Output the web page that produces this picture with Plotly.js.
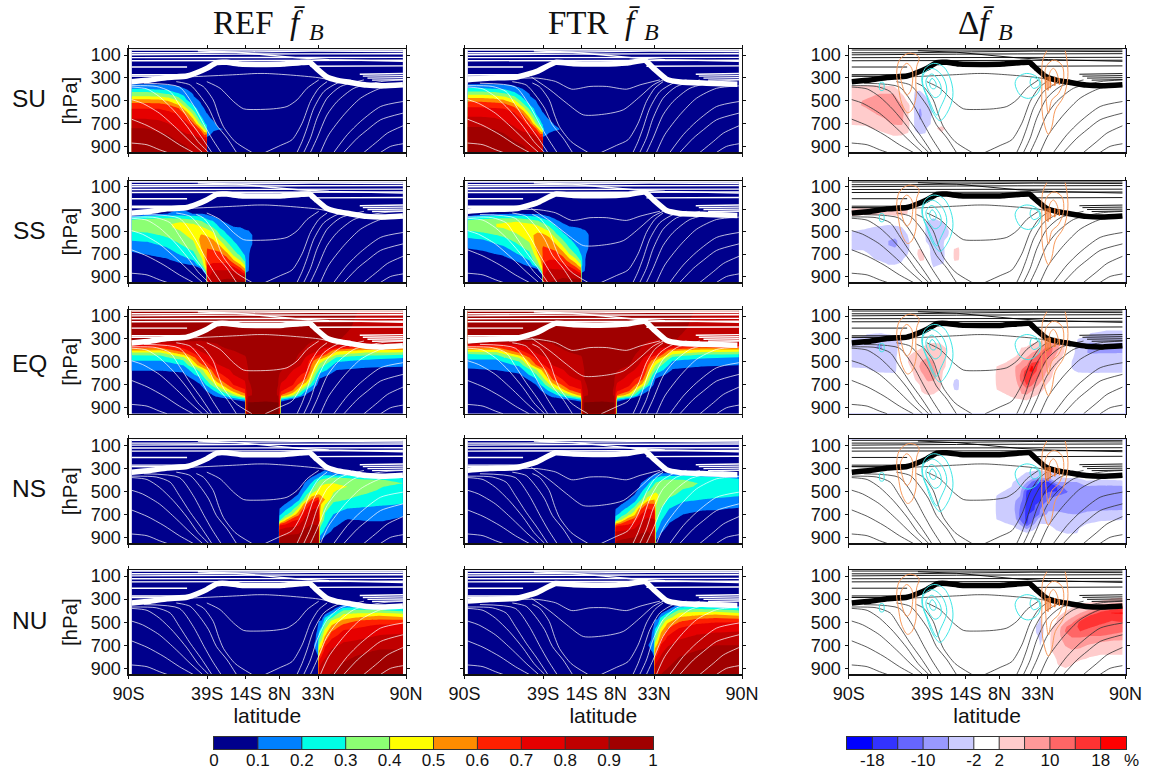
<!DOCTYPE html>
<html><head><meta charset="utf-8"><script src="https://cdn.plot.ly/plotly-3.0.1.min.js"></script>
<style>html,body{margin:0;padding:0;background:#fff}</style></head><body><div id="chart" style="width:1149px;height:770px"></div>
<script>
const seasons=['SU','SS','EQ','NS','NU'];
const columnTitles=['REF','FTR'];
const latTicks=[-90,-39,-14,8,33,90];
const latLabels=['90S','39S','14S','8N','33N','90N'];
const presTicks=[100,300,500,700,900];
const fLevelColors=['#00008c','#0080ff','#00ffe6','#8cff73','#ffff00','#ff8c00','#ff2000','#e60000','#c00000','#a00000','#7f0000'];
const dLevelColors=['#0000ff','#3333ff','#6666ff','#9999ff','#ccccff','#ffffff','#ffcccc','#ff9999','#ff6666','#ff3333','#ff0000'];
const fBarLabels=['0','0.1','0.2','0.3','0.4','0.5','0.6','0.7','0.8','0.9','1'];
const dBarPos=[1,3,5,6,8,10];
const dBarLabels=['-18','-10','-2','2','10','18'];

const PF=[52,340,360,380,400,430,460,490,530,570,610,650,700,750,800,850,900,952];
const PE=[52,200,250,300,320,340,360,380,400,430,460,490,530,570,610,650,700,750,790,830,860,952];
const PD=[47,270,300,340,380,420,460,500,540,580,620,660,700,740,780,820,860,952];

const su_lat=[-88,-79.3,-70.7,-64.2,-57.7,-52.3,-48,-43.6,-40.8,-39.3,-39,-35,-31.7,-28.5,-27,88];
const su_ref_z=[[0,0,.12,.16,.21,.32,.4,.51,.63,.7,.75,.79,.85,.91,.94,.96,.97,.98],[0,0,.12,.16,.21,.32,.4,.51,.63,.7,.75,.79,.85,.91,.94,.96,.97,.98],[0,0,.11,.15,.19,.3,.39,.5,.62,.7,.74,.78,.83,.88,.92,.95,.97,.98],[0,0,.1,.14,.18,.26,.36,.46,.59,.68,.72,.76,.8,.85,.9,.94,.96,.98],[0,0,.07,.12,.15,.19,.28,.37,.48,.62,.69,.72,.76,.8,.84,.89,.94,.97],[0,0,0,.05,.1,.13,.17,.2,.3,.42,.55,.65,.72,.76,.81,.86,.9,.94],[0,0,0,0,0,.09,.11,.14,.18,.26,.36,.47,.62,.74,.8,.83,.86,.88],[0,0,0,0,0,0,0,.08,.12,.15,.18,.24,.35,.6,.78,.82,.84,.85],[0,0,0,0,0,0,0,0,.05,.1,.13,.16,.22,.4,.6,.81,.83,.84],[0,0,0,0,0,0,0,0,0,.05,.1,.13,.17,.29,.65,.8,.82,.84],[0,0,0,0,0,0,0,0,0,.04,.1,.13,.17,.2,.15],[0,0,0,0,0,0,0,0,0,0,0,.07,.13,.13,.05],[0,0,0,0,0,0,0,0,0,0,0,0,.07,.11],[0,0,0,0,0,0,0,0,0,0,0,0,.02,.1],[0],[0]];
const su_ftr_z=[[0,0,.13,.18,.23,.34,.44,.55,.66,.72,.77,.81,.87,.92,.95,.96,.97,.98],[0,0,.13,.18,.23,.34,.44,.55,.66,.72,.77,.81,.87,.92,.95,.96,.97,.98],[0,0,.12,.17,.21,.32,.42,.53,.64,.71,.76,.8,.85,.9,.93,.95,.97,.98],[0,0,.11,.15,.2,.28,.39,.49,.62,.7,.74,.78,.82,.87,.91,.94,.96,.98],[0,0,.08,.13,.16,.21,.3,.4,.52,.65,.71,.74,.78,.82,.86,.9,.94,.97],[0,0,0,.06,.11,.14,.18,.22,.33,.46,.59,.68,.74,.78,.83,.87,.91,.95],[0,0,0,0,0,.09,.12,.15,.2,.29,.39,.51,.65,.76,.82,.85,.87,.89],[0,0,0,0,0,0,0,.09,.13,.16,.19,.26,.38,.63,.79,.83,.85,.86],[0,0,0,0,0,0,0,0,.06,.11,.14,.17,.24,.43,.63,.82,.84,.85],[0,0,0,0,0,0,0,0,0,.06,.11,.14,.18,.31,.67,.81,.83,.85],[0,0,0,0,0,0,0,0,0,.05,.11,.14,.18,.21,.15],[0,0,0,0,0,0,0,0,0,0,.02,.08,.14,.15,.07],[0,0,0,0,0,0,0,0,0,0,0,0,.09,.13,.02],[0,0,0,0,0,0,0,0,0,0,0,0,.04,.11],[0,0,0,0,0,0,0,0,0,0,0,0,0,.04],[0]];

const ss_lat=[-88,-78,-65,-56.5,-48,-42.5,-39.5,-39,-35,-30.7,-26.3,-22,-17.7,-14.5,-14,-12,-9.7,-7,88];
const ss_ref_z=[[0,0,.1,.25,.33,.38,.37,.31,.27,.21,.17,.13,.08],[0,.06,.21,.29,.33,.38,.37,.32,.27,.22,.18,.15,.11,.03],[0,.1,.22,.3,.35,.39,.38,.36,.32,.28,.23,.19,.14,.09,.03],[0,.12,.23,.29,.38,.42,.43,.4,.37,.33,.3,.26,.21,.14,.07],[0,.1,.21,.27,.32,.4,.43,.45,.44,.41,.37,.33,.26,.21,.1,.02],[0,.1,.18,.24,.29,.35,.41,.46,.51,.54,.53,.51,.45,.38,.3],[0,.08,.14,.19,.24,.3,.37,.44,.49,.53,.56,.58,.57,.55,.53,.4],[0,.08,.13,.18,.23,.29,.36,.43,.49,.53,.57,.6,.63,.66,.7,.74,.76,.78],[0,.04,.09,.13,.19,.24,.29,.37,.44,.5,.55,.59,.63,.67,.72,.81,.86,.88],[0,0,.04,.08,.11,.15,.19,.24,.3,.38,.47,.56,.63,.67,.72,.81,.87,.92],[0,0,0,.02,.06,.11,.14,.17,.21,.27,.34,.41,.54,.66,.73,.81,.88,.93],[0,0,0,0,0,.05,.11,.13,.16,.19,.23,.29,.37,.5,.67,.8,.88,.93],[0,0,0,0,0,0,.1,.12,.13,.15,.17,.2,.27,.39,.53,.72,.87,.92],[0,0,0,0,0,0,.08,.11,.12,.13,.14,.16,.18,.25,.4,.57,.83,.92],[0,0,0,0,0,0,.07,.11,.12,.13,.14,.15,.17,.2,.2,.15],[0,0,0,0,0,0,.05,.1,.11,.11,.11,.11,.11,.11,.11,.1],[0,0,0,0,0,0,0,.05,.1,.1,.1,.09,.05],[0],[0]];
const ss_ftr_z=[[0,0,.1,.24,.31,.37,.36,.3,.24,.18,.14,.1,.04],[0,.05,.2,.28,.33,.38,.38,.33,.26,.2,.16,.12,.07],[0,.09,.21,.3,.36,.41,.41,.37,.32,.27,.22,.17,.12,.05],[0,.1,.22,.3,.38,.44,.46,.43,.38,.33,.29,.25,.19,.12,.05],[0,.09,.2,.27,.33,.41,.46,.48,.47,.43,.38,.33,.27,.21,.12,.03],[0,.09,.18,.24,.3,.37,.43,.48,.53,.56,.57,.55,.5,.42,.32],[0,.07,.14,.2,.25,.32,.39,.46,.52,.56,.59,.6,.58,.56,.53,.4],[0,.07,.13,.19,.24,.31,.38,.45,.52,.56,.59,.61,.63,.67,.72,.76,.79,.8],[0,.04,.09,.14,.2,.26,.31,.39,.47,.53,.57,.6,.65,.7,.76,.83,.87,.9],[0,0,.04,.08,.12,.16,.21,.26,.33,.42,.5,.57,.64,.7,.75,.82,.87,.92],[0,0,0,.02,.06,.11,.14,.18,.23,.3,.37,.45,.56,.66,.73,.82,.89,.93],[0,0,0,0,0,.06,.11,.14,.17,.21,.25,.31,.4,.53,.67,.8,.88,.94],[0,0,0,0,0,.02,.1,.13,.15,.17,.19,.22,.29,.42,.55,.72,.87,.96],[0,0,0,0,0,0,.09,.12,.14,.15,.16,.18,.2,.27,.42,.6,.84,.97],[0,0,0,0,0,0,.08,.12,.13,.15,.16,.17,.19,.22,.22,.15],[0,0,0,0,0,0,.06,.11,.12,.13,.13,.13,.13,.12,.12,.1],[0,0,0,0,0,0,0,.07,.11,.11,.11,.1,.06],[0],[0]];

const eq_lat=[-88,-69.5,-54.4,-43.6,-32.8,-22,-14.5,-13.8,-12.3,-0.4,7.1,8.2,9,16.8,25.4,34,45,64.3,88];
const eq_ref_z=[[.95,.95,.94,.93,.92,.9,.72,.6,.5,.33,.26,.2,.14,.11,.05],[.96,.96,.95,.93,.91,.8,.69,.59,.49,.34,.26,.2,.14,.11,.06],[.96,.96,.95,.93,.91,.84,.78,.71,.66,.54,.39,.29,.2,.13,.08,.02],[.97,.97,.96,.93,.89,.87,.85,.84,.81,.77,.7,.65,.55,.33,.26,.17,.09,.03],[.98,.98,.97,.96,.93,.9,.89,.88,.87,.86,.84,.82,.79,.72,.65,.57,.42,.24,.13,.05],[.98,.98,.98,.97,.96,.95,.94,.92,.9,.88,.87,.86,.84,.82,.8,.75,.7,.55,.35,.1],[.98,.98,.98,.98,.97,.96,.95,.94,.93,.91,.89,.88,.87,.87,.85,.82,.76,.68,.55,.2],[.98,.98,.98,.98,.97,.96,.95,.94,.93,.92,.9,.89,.88,.88,.87,.85,.82,.78,.75,.75,.8,.85],[.98,.98,.98,.98,.98,.97,.97,.96,.95,.94,.93,.92,.91,.9,.9,.9,.89,.88,.88,.97,1.01,1.03],[.98,.98,.98,.98,.98,.98,.98,.98,.98,.98,.98,.98,.97,.97,.97,.97,.97,.98,.98,.99,1.01,1.05],[.98,.98,.98,.98,.98,.98,.98,.98,.98,.98,.98,.98,.97,.96,.92,.91,.9,.89,.89,.96,1.01,1.03],[.98,.98,.98,.98,.98,.98,.98,.98,.98,.98,.98,.97,.95,.92,.89,.85,.82,.78,.7,.7,.7,.75],[.98,.98,.98,.98,.98,.98,.97,.97,.97,.97,.97,.96,.94,.91,.88,.84,.78,.72,.6,.2],[.98,.98,.98,.98,.98,.97,.97,.96,.96,.95,.94,.93,.88,.8,.76,.74,.7,.59,.4,.05],[.97,.97,.96,.93,.92,.91,.9,.89,.87,.83,.79,.76,.74,.72,.66,.59,.42,.18,.08],[.96,.96,.94,.91,.88,.86,.85,.83,.8,.73,.6,.46,.36,.28,.17,.09,.03],[.95,.93,.92,.91,.9,.88,.81,.7,.53,.43,.3,.22,.15,.1,.05],[.88,.87,.86,.84,.83,.8,.72,.58,.48,.35,.25,.18,.12,.08,.03],[.86,.85,.84,.83,.82,.81,.78,.6,.47,.33,.21,.16,.11,.08,.03]];
const eq_ftr_z=[[.95,.95,.94,.93,.92,.9,.7,.58,.47,.3,.23,.18,.12,.09,.03],[.96,.96,.95,.93,.91,.8,.68,.57,.47,.32,.24,.18,.13,.1,.04],[.96,.96,.95,.93,.91,.85,.79,.73,.68,.57,.42,.32,.22,.14,.09,.02],[.97,.97,.96,.93,.9,.88,.86,.85,.83,.79,.73,.68,.59,.38,.29,.19,.1,.03],[.98,.98,.97,.96,.93,.9,.89,.88,.87,.87,.85,.83,.8,.74,.68,.61,.46,.27,.14,.05],[.98,.98,.98,.97,.96,.95,.94,.92,.91,.89,.88,.87,.85,.83,.81,.77,.72,.58,.37,.1],[.98,.98,.98,.98,.97,.96,.95,.94,.93,.91,.89,.88,.87,.87,.85,.82,.76,.68,.55,.2],[.98,.98,.98,.98,.97,.96,.95,.94,.93,.92,.9,.89,.88,.88,.87,.85,.82,.78,.75,.75,.8,.85],[.98,.98,.98,.98,.98,.97,.97,.96,.95,.94,.93,.92,.91,.9,.9,.9,.89,.88,.88,.97,1.01,1.03],[.98,.98,.98,.98,.98,.98,.98,.98,.98,.98,.98,.98,.97,.97,.97,.97,.97,.98,.98,.99,1.01,1.05],[.98,.98,.98,.98,.98,.98,.98,.98,.98,.98,.98,.98,.97,.96,.92,.91,.9,.89,.89,.96,1.01,1.03],[.98,.98,.98,.98,.98,.98,.98,.98,.98,.98,.98,.97,.95,.92,.89,.85,.82,.78,.7,.7,.7,.75],[.98,.98,.98,.98,.98,.98,.97,.97,.97,.97,.97,.96,.94,.91,.88,.84,.78,.72,.6,.2],[.98,.98,.98,.98,.98,.97,.97,.96,.96,.95,.94,.93,.9,.84,.79,.76,.72,.62,.43,.05],[.97,.97,.96,.93,.92,.91,.9,.89,.88,.85,.82,.79,.76,.74,.7,.62,.47,.2,.08],[.96,.96,.94,.91,.88,.86,.85,.83,.81,.76,.64,.5,.39,.3,.18,.09,.03],[.95,.93,.92,.91,.9,.88,.81,.69,.52,.41,.28,.2,.14,.09,.04],[.88,.87,.86,.84,.83,.8,.7,.56,.46,.32,.22,.16,.11,.07,.02],[.86,.85,.84,.83,.82,.81,.76,.58,.45,.31,.2,.15,.1,.06,.02]];

const ns_lat=[-88,7.5,8,11.5,15.8,20.2,24.5,28.8,33.2,34.2,37.5,42.9,52,64.5,75.3,88];
const ns_ref_z=[[0],[0],[0,0,0,0,0,0,0,0,0,0,0,.1,.18,.28,.73,.84,.91,.93],[0,0,0,0,0,0,0,0,0,.03,.1,.17,.25,.47,.77,.85,.92,.95],[0,0,0,0,0,0,0,0,.03,.1,.16,.24,.37,.67,.78,.87,.93,.96],[0,0,0,0,0,0,0,.06,.11,.17,.27,.41,.57,.71,.8,.88,.93,.96],[0,0,0,0,.06,.11,.15,.19,.26,.34,.56,.67,.77,.83,.88,.92,.94,.96],[0,0,.05,.11,.15,.21,.25,.3,.44,.6,.72,.79,.83,.88,.91,.93,.95,.96],[0,.09,.14,.19,.27,.34,.38,.43,.51,.7,.77,.81,.84,.87,.9,.92,.93,.94],[0,.1,.16,.22,.3,.36,.41,.46,.5,.52,.53,.52,.5,.49,.32,.27,.18,.05],[0,.11,.2,.27,.33,.39,.43,.46,.48,.5,.41,.34,.29,.25,.22,.17,.08],[0,.1,.19,.3,.36,.4,.43,.41,.39,.33,.28,.24,.2,.16,.12,.07],[0,.1,.2,.29,.33,.37,.4,.37,.33,.3,.25,.2,.15,.09,.05],[0,.09,.17,.25,.31,.33,.34,.33,.29,.25,.22,.19,.15,.11,.06],[0,.05,.15,.23,.3,.31,.3,.28,.26,.23,.21,.18,.15,.11,.06],[0,0,.1,.17,.25,.3,.28,.26,.24,.22,.2,.17,.12,.07,.03]];
const ns_ftr_z=[[0],[0],[0,0,0,0,0,0,0,0,0,0,0,.09,.17,.26,.68,.8,.87,.91],[0,0,0,0,0,0,0,0,0,.02,.09,.16,.23,.4,.72,.81,.88,.93],[0,0,0,0,0,0,0,0,.02,.09,.15,.22,.33,.58,.73,.82,.89,.94],[0,0,0,0,0,0,0,.04,.1,.15,.23,.34,.47,.66,.76,.84,.9,.95],[0,0,0,0,.04,.1,.13,.17,.22,.29,.42,.59,.7,.78,.84,.89,.92,.95],[0,0,.03,.09,.13,.18,.22,.27,.36,.44,.62,.7,.76,.83,.87,.9,.93,.95],[0,.07,.12,.17,.23,.29,.33,.37,.42,.5,.6,.67,.75,.81,.85,.88,.9,.92],[0,.08,.14,.19,.26,.31,.35,.39,.41,.42,.41,.39,.36,.33,.27,.22,.15,.05],[0,.09,.17,.24,.29,.33,.36,.38,.39,.37,.34,.29,.25,.21,.17,.12,.05],[0,.09,.17,.26,.31,.35,.37,.36,.33,.28,.24,.2,.16,.12,.08,.03],[0,.09,.18,.26,.3,.33,.32,.29,.26,.22,.18,.14,.1,.06,.02],[0,.08,.16,.23,.27,.29,.28,.26,.23,.2,.16,.11,.08,.05],[0,.05,.14,.21,.26,.27,.26,.24,.22,.19,.16,.11,.07,.04],[0,0,.1,.16,.23,.27,.26,.24,.21,.18,.14,.09,.05,.02]];

const nu_ref_lat=[-88,29.5,30.3,31.6,32.9,33.5,35.3,37.4,41.8,49.3,60.1,73.1,88];
const nu_ref_z=[[0],[0],[0,0,0,0,0,0,0,0,0,0,0,0,.1,.05],[0,0,0,0,0,0,0,0,0,.07,.1,.12,.15,.1],[0,0,0,0,0,0,0,.06,.1,.12,.14,.16,.18,.2,.08],[0,0,0,0,0,0,.06,.1,.14,.18,.22,.3,.4,.5,.6,.75,.8,.82],[0,0,0,0,0,0,.05,.11,.18,.25,.34,.39,.48,.59,.72,.8,.84,.87],[0,0,0,0,.03,.09,.2,.25,.32,.42,.48,.56,.68,.75,.79,.83,.86,.88],[0,0,0,.05,.1,.22,.29,.42,.51,.58,.65,.71,.77,.82,.84,.86,.88,.91],[0,.06,.13,.22,.31,.4,.46,.53,.63,.7,.74,.78,.82,.85,.88,.9,.92,.94],[0,.07,.16,.25,.33,.42,.51,.62,.68,.73,.77,.8,.84,.88,.91,.93,.95,.96],[0,.03,.11,.24,.33,.45,.55,.64,.72,.76,.8,.83,.87,.91,.93,.95,.96,.97],[0,0,.09,.21,.28,.42,.51,.65,.73,.77,.81,.84,.87,.91,.93,.95,.96,.97]];
const nu_ftr_lat=[-88,28.5,29.3,31.6,32.9,33.5,35.3,37.4,41.8,49.3,60.1,73.1,88];
const nu_ftr_z=[[0],[0],[0,0,0,0,0,0,0,0,0,0,0,0,.1,.05],[0,0,0,0,0,0,0,0,.04,.09,.11,.13,.16,.11],[0,0,0,0,0,0,.02,.08,.11,.13,.15,.17,.2,.22,.09],[0,0,0,0,0,0,.08,.11,.16,.21,.26,.34,.44,.54,.65,.77,.82,.84],[0,0,0,0,0,0,.07,.13,.21,.29,.37,.43,.53,.64,.75,.82,.86,.88],[0,0,0,0,.04,.11,.22,.28,.36,.46,.53,.61,.71,.77,.81,.85,.88,.9],[0,0,0,.06,.12,.25,.33,.46,.55,.63,.69,.74,.79,.84,.86,.88,.9,.92],[0,.07,.15,.24,.34,.44,.51,.58,.67,.73,.77,.8,.84,.87,.9,.92,.94,.95],[0,.08,.18,.28,.36,.46,.56,.66,.72,.76,.8,.83,.87,.9,.93,.95,.96,.97],[0,.04,.13,.26,.36,.49,.59,.68,.74,.78,.82,.86,.9,.93,.95,.96,.97,.98],[0,0,.1,.23,.31,.45,.56,.68,.75,.79,.83,.87,.9,.93,.95,.96,.97,.98]];

const d_su_lat=[-88,-79,-69.6,-60.9,-55.5,-51.2,-48.8,-46.8,-43.6,-40.3,-37,-34.5,-32.3,-29.5,-25.2,-23,88];
const d_su_z=[[0,0,0,0,2.5,3,4,4.5,5,5,5,4,2.5,1],[0,0,0,.5,3,4,5,6.5,6.5,5.5,4.5,3.5,2.5,1.5],[0,0,0,.5,3,5,7,8,8,7.5,6.5,5,4,3,1.5],[0,0,0,0,2.5,5,7,8.5,8.5,8.5,8,7.5,6.5,4.5,3,1.5],[0,0,0,0,0,1,3,4.5,6.5,7.5,7.5,7,6.5,5,3.5,1],[0,0,0,0,0,0,0,1,3,3,2,2.3,3,2.5,2],[0],[0,0,0,0,0,-2.3,-3,-3.5,-3.5,-3.5,-3,-3,-3,-2.5,-1.5],[0,0,0,0,0,-2.5,-3.5,-4,-5,-6.5,-7,-6.5,-4,-3,-2.5,-1],[0,0,0,0,0,0,-2.2,-3.5,-4,-4,-4,-3.5,-3,-2.5,-2.2,-.5],[0,0,0,0,0,0,0,-1.5,-2.5,-3,-3,-2.5,-2.3,-1],[0,0,0,0,0,0,0,0,0,-1,-1],[0,0,0,0,0,0,0,0,0,0,0,0,0,2.2,1],[0,0,0,0,0,0,0,0,0,0,0,0,.5,3,2],[0,0,0,0,0,0,0,0,0,0,0,0,0,1],[0],[0]];
const d_ss_lat=[-88,-80.5,-72.9,-64.2,-59.9,-55.5,-51.8,-49.7,-46.8,-43.6,-41,-39.7,-35,-28.4,-25,-23.3,-21.3,-18.5,-16.5,88];
const d_ss_z=[[0,0,3,3,1,0,0,-2.2,-3.5,-4,-4,-2.5],[0,0,3,2.5,.5,0,-1,-3,-4,-4.5,-4,-2.2,-1],[0,0,3,2.5,.5,0,-2.2,-3.5,-4,-4.5,-4.5,-4,-3,-2.2,-1],[0,0,3,2.5,.5,-1.5,-2.5,-3.5,-4.5,-6,-6,-4.5,-4,-3,-2.3,-1.5],[0,0,3,2.8,1,-1,-2.5,-3.5,-5,-7,-7,-5,-4,-3.5,-2.6,-1],[0,0,2.5,2.5,1,-.5,-2.1,-3,-3.5,-4,-4,-3.5,-3,-2.5,-1.8],[0,0,2.2,2,.5,0,0,-1.5,-2.3,-2.6,-2.8,-2.6,-2.2,-1],[0,0,1,2.1,.2,0,0,0,-.5,-1.5,-1.5,-1.5,-.5],[0,0,0,0,0,0,0,0,0,0,0,1.5,1.5,.5],[0,0,0,0,0,0,0,0,0,0,0,2.4,2.6,2.6,1.5],[0,0,0,0,0,0,0,0,0,0,0,1,2.1,2.3,1.5],[0,0,0,0,0,-2.3,-3,-3,-2.8,-2.2,-1],[0,0,0,0,-2.1,-3,-3.5,-4,-4,-4,-3.5,-3.5,-3.5,-3,-2.5,-2,-.5],[0,0,0,0,0,-2.1,-3,-3.5,-3,-2.3,-2.1,-2.5,-2.6,-2.5,-2.1,-.5],[0,0,0,0,0,0,-1.5,-2.2,-1.8,-.5],[0],[0,0,0,0,0,0,0,0,0,0,0,2.4,2.6,2.5,1.5],[0,0,0,0,0,0,0,0,0,0,1.6,2.5,2.6,2.4,1.3],[0],[0]];
const d_eq_lat=[-88,-78.3,-69.6,-59.9,-55.5,-51.2,-46.8,-42.5,-38.2,-34.9,-30.6,-26.7,-24,-22.1,-19.7,-17.3,-15.4,3.7,6.3,12.8,18.2,22.6,25.8,29.1,33.4,37.8,42.1,46.4,50.1,53.6,55.1,59.4,67,77.9,88];
const d_eq_z=[[0,0,-2.3,-3,-6.1,-3.5,-3,-3,-2.3,-1],[0,-2.1,-2.5,-4,-5,-3.5,-3,-3,-2.3,-1.5],[0,-2.2,-3,-6.2,-6.5,-3.5,-3,-3,-2.8,-2.5,-1],[0,-2,-2.5,-3,-3,-3,-2.6,-2.6,-2.5,-2.4,-1.5],[0,0,-2.1,-2.1,-.5],[0,0,0,0,0,1,2.1,2.1,1.5,.5],[0,0,0,0,0,2.5,3,3.5,3.5,3,2.5,1.9,.5],[0,0,0,0,2.2,3,4,6.5,7.5,6.5,5,3.5,2.7,2.3,1.7],[0,0,0,2,3,4,6,8,10,9.5,8,6.8,4,3,2.3,1],[0,0,0,2.3,3,4,5,6,6.5,7.5,8.5,6.3,4,2.5,2.1,.5],[0,0,0,2.1,2.8,3,3,3,3,3,3,2.8,2.5,2.1,1],[0,0,0,0,2,2.1,2.1,2,1.9,1,.5],[0],[0,0,0,0,0,0,0,0,0,0,0,-1.8,-2,-1.8],[0,0,0,0,0,0,0,0,0,0,-1,-2.5,-2.8,-2.5],[0,0,0,0,0,0,0,0,0,0,0,-1.6,-1.5,-1.5],[0],[0],[0,0,0,0,0,0,0,0,2.1,2.5,2.8,2.7,2.5,2,.5],[0,0,0,0,0,0,.5,2,2.4,2.7,2.9,3,2.9,2.8,2.2,1],[0,0,0,0,0,.5,2.2,3,5.8,5.9,5.5,4.5,4,3.5,3,2],[0,0,0,0,2.3,3,4.5,6.5,9,10.5,12,12,9,7,6,2.5],[0,0,0,0,3,4,6,8,10.5,17,17.5,16,14.3,9,6.5,3,.5],[0,0,0,2,4,6,9,13,19,19,14.5,13,10.5,7,3.5,1.5],[0,0,0,3,5,8.5,13,14.5,13,12,11,8.5,6,3.5,2.2,.5],[0,0,2,6,10.5,14.5,12,10.5,9,7,5.5,3.5,2.5,1.5],[0,0,2.5,7,10.5,10,8,6,4,2.7,2.2,1.5],[0,0,2.1,6,6.5,5,3.5,2.5,1],[0,0,0,2.1,2.2,2,1],[0],[0,0,0,0,0,0,-1.5,-2.1,-2.3,-1.5],[0,0,-2.2,-3,-4,-4.5,-3.5,-3,-3,-2.5,-1],[0,-2.2,-3.5,-6.5,-6.5,-6.5,-3.5,-3,-3,-2.6,-1.2],[0,-2.5,-4,-5.5,-6.3,-6.2,-4.5,-3,-3,-2.6,-1],[0,-2.5,-4,-6.5,-6.5,-6.1,-4,-3,-3,-2.6,-1]];
const d_ns_lat=[-88,3.7,6.3,10.6,17.1,21.5,25.8,30.2,34.5,39.9,45.3,51.9,58.4,64.9,73.5,88];
const d_ns_z=[[0],[0],[0,0,0,0,0,0,0,0,-2.2,-2.5,-2.7,-2.7,-2.5,-2.2,-.5],[0,0,0,0,0,0,0,-2,-2.5,-2.8,-3,-3,-2.8,-2.5,-1.8],[0,0,0,0,-.5,-2.1,-2.5,-3,-4.5,-5,-5,-5,-4,-3,-2.4,-1.5],[0,0,0,-1,-2.2,-3,-4,-5,-6,-8,-9.8,-10.5,-11,-11,-7,-3,-1],[0,0,0,-2.3,-3.5,-6,-10,-14.3,-15,-15,-15,-15,-15,-15,-14.5,-7,-2],[0,0,-1,-2.8,-5,-12,-15,-15.5,-15.5,-15.5,-15,-14.5,-11.5,-10,-7,-2.8,-1],[0,0,-1.5,-3,-5.8,-14.5,-15.5,-15.5,-15,-14.5,-11,-10,-9.8,-4,-2.1,-.5],[0,0,-.5,-2.5,-5,-14.3,-15,-14.5,-10.5,-9.5,-7.5,-6.5,-5,-3.5,-2.2,-1],[0,0,0,-2.1,-2.5,-6.1,-14.3,-14.2,-10,-9,-8,-6.5,-5,-4,-3,-2.5,-1.5],[0,0,0,0,-1.5,-6,-7,-10.2,-9.5,-9,-9,-8,-5.5,-4,-3,-2.8,-2.2],[0,0,0,0,-1.5,-6.1,-7,-8,-8.5,-9,-9.7,-8,-6.1,-4,-3,-2.5,-2.1],[0,0,0,0,0,-3,-6.5,-7,-7.5,-8,-8,-6.7,-5,-3.5,-2.1,-.5],[0,0,0,0,-1,-3,-7,-7.5,-8,-8,-7.5,-6.3,-4.5,-3,-1],[0,0,0,0,-1,-2.5,-6.5,-7.5,-7.8,-7.5,-7,-6.1,-4,-2.5,-.5]];
const d_nu_lat=[-88,30.2,31.9,34.5,36.7,39.3,41.4,46.4,50.8,55.1,60.5,67,73.5,81.1,88];
const d_nu_z=[[0],[0],[0,0,0,0,0,0,0,-1,-2.2,-2.2,-1.5],[0,0,0,0,0,0,-2.1,-2.5,-2.8,-2.8,-2.6,-2.4,-2.1,-1],[0,0,0,0,0,0,0,-1,-2,-2,-1.9,-1.5,-1],[0],[0,0,0,0,0,0,0,0,1.5,2,2.2,2.3,2.2,2,1.3],[0,0,0,0,0,1,2.2,3,4,4.7,5,4.6,4,3.2,3,2.8,2.3,0],[0,0,0,0,1,2.5,4,6,9.5,10.2,8.5,7,6.1,5.5,3.5,3,2.7,1],[0,0,0,1,2.3,4,6,9,12,13,10.5,9,7,6,4,3,2.3,.5],[0,0,0,2.2,3.5,6,10,15,15,14,10.5,9,7,5.5,3.5,2.5,.5],[0,0,.5,2.6,5,10.5,17,18,14.5,12,10,8,5.5,3.5,2.6,1.5],[0,0,1,4,10,15,17,15,13,12,10,6.5,5,3.5,2.1,1],[0,1,2.3,6.3,12,18.2,15,13.5,12,11,9.3,6,4.5,3,2.1,.8],[0,1.5,2.5,6.5,14.5,18.5,15.5,14,12,10.5,8,5.8,4.5,3.2,2.1,.5]];
const d_edge_lat_low=[-90,-88.1];
const d_edge_lat_high=[88.1,90];

const theta_lines=[
 [[-88,-78,-70,-65],[871,886,929,953]],
 [[-88,-78,-67,-57,-48],[662,717,798,886,953]],
 [[-88,-81,-70,-59,-50,-42],[490,522,609,740,857,953]],
 [[-88,-78,-70,-61,-52,-45,-38],[380,397,464,580,725,857,953]],
 [[-88,-72,-63,-57,-50,-43,-36],[368,375,420,537,682,812,953]],
 [[-80,-57,-48,-41,-36,-30],[347,380,537,710,828,953]],
 [[-59,-50,-44,-38,-33,-26,-20],[333,362,450,566,710,828,953]],
 [[-46,-41.4,-35,-31.6,-28.4,-20.8,-10],[345,377,494,625,728,859,952]],
 [[-1.3,8.5,16.1,22.6,28,33.4,38.8],[953,892,842,697,507,391,333]],
 [[19.3,22.6,25.8,30.2,36.7,45.3,54],[953,857,740,566,420,347,318]],
 [[23.7,28,32.3,38.8,47.5,62.7],[953,828,653,478,376,318]],
 [[28,32.3,38.8,45.3,56.2,73.5,88],[953,828,624,507,391,333,318]],
 [[34.5,39.9,49.7,60.5,73.5,88],[953,798,624,478,391,370]],
 [[43.2,51.9,60.5,73.5,88],[953,798,682,551,507]],
 [[49.7,58.4,64.9,73.5,88],[953,828,755,667,609]],
 [[62.7,71.4,77.9,88],[953,857,784,720]],
 [[73.5,80,88],[953,900,877]]
];
const ref_bowl=[[-39.2,-30.6,-21.9,-15.4,-6.7,4.1,12.8,19.3,25.8,33.4],[333,391,507,571,577,571,551,493,391,318]];
const ftr_bowl=[[-46.6,-34.5,-23.7,-12.9,2.2,13,23.9,32.5,39],[293,405,522,624,615,580,463,361,317]];
const ref_upper=[[-88,-50,-39,-18,-8,0,15,33,45],[285,290,284,270,262,262,275,298,330]];
const ftr_upper=[[-88,-54,-43,-31,-20.5,-8.6,2.2,15.2,23.9,36.8],[285,302,302,331,399,375,375,399,361,317]];
const strat_lat=[-88,88,null,-88,-50,-10,30,88,null,-88,-60,-20,20,88,null,-88,88,null,-88,88,null,-88,-52,null,28,88,null,-45,-20,0,20,40,88,null,-88,-50,null,-88,-48,null,60,88,null,62,88,null,65,88,null,68,88];
const strat_p=[56,56,null,80,80,72,66,70,null,98,98,92,90,88,null,123,120,null,150,145,null,205,205,null,198,195,null,62,75,100,125,140,155,null,272,272,null,285,285,null,268,262,null,285,280,null,302,298,null,320,315];
const ref_trop_lat=[-88,-76,-65.2,-52.2,-45.8,-39.3,-32.8,-26.3,-17.7,-0.4,10.3,21.1,27.6,31.9,38.4,44.9,53.5,64.3,75.1,88];
const ref_trop_p=[334,319,296,284,255,217,167,164,179,182,179,167,164,217,290,319,339,363,369,360];
const ftr_trop_lat=[-88,-73.5,-56,-43,-31,-19.4,-2,15.2,27,32.5,41,50,67,87];
const ftr_trop_p=[317,302,293,243,164,176,179,170,147,214,311,337,346,355];
const jet_orange_lat=[-51.2,-45.8,-44.2,-45.8,-46.4,-46.2,-49,-51.8,-55.5,-57.7,-58.8,-57,-51.2,null,-52.3,-49,-48.4,-50,-52.3,-55.5,-56.2,-52.3,null,38.8,36.2,35.6,36.2,39.9,42.1,44.3,49.7,52.5,51.9,50.8,null,43.2,48.6,49.7,46.4,42.1,39.9,37.8,38.4,43.2,null,43.2,45.8,45.8,42.7,40.6,41,43.2];
const jet_orange_p=[85,100,129,202,348,465,582,605,523,377,261,144,85,null,173,217,319,421,450,348,246,173,null,62,144,377,640,795,728,582,465,290,144,62,null,144,188,319,436,494,611,348,202,144,null,217,275,334,363,319,246,217];
const jet_cross_lat=[38.2,38.2,null,39.6,39.6,null,41,41,null,44,44,null,47,47];
const jet_cross_p=[290,400,null,290,410,null,290,390,null,290,370,null,300,360];
const jet_cyan_lat=[-34.9,-28.4,-23.6,-22.3,-26.2,-30.6,-34.9,-39.2,-42.5,-40.3,-34.9,null,-36,-29.5,-26.2,-30.6,-32.7,-38.2,-41.9,-41,-36,null,-36,-30.6,-30.1,-33.8,-38.2,-39.7,-36,null,-35.8,-33.2,-33.8,-36,-37.5,-35.8,null,-69.6,-67.4,-67.4,-69.6,-69.6,null,25.8,32.3,34.9,32.8,26.9,21.5,18.2,20.4,25.8,null,29.1,33.4,34.1,30.2,28,29.1];
const jet_cyan_p=[173,202,319,465,611,675,611,465,319,217,173,null,217,275,407,567,626,480,348,261,217,null,266,348,436,474,407,319,266,null,304,348,392,392,348,304,null,342,342,407,407,342,null,261,290,348,436,480,450,348,290,261,null,296,319,363,392,348,296];

const FIG_W=1149,FIG_H=770;
const colX=[[128.5,406],[464.5,742],[848.7,1125.5]];
const rowY=[[49,152.3],[181,282.3],[310,413.7],[439.3,543.3],[570,674.3]];
const frameColor='#111';
const fontMain='"Liberation Sans", Arial, sans-serif';

const fFields=[[su_lat,PF,su_ref_z,su_lat,su_ftr_z],[ss_lat,PF,ss_ref_z,ss_lat,ss_ftr_z],[eq_lat,PE,eq_ref_z,eq_lat,eq_ftr_z],[ns_lat,PF,ns_ref_z,ns_lat,ns_ftr_z],[nu_ref_lat,PF,nu_ref_z,nu_ftr_lat,nu_ftr_z]];
const dFields=[[d_su_lat,d_su_z],[d_ss_lat,d_ss_z],[d_eq_lat,d_eq_z],[d_ns_lat,d_ns_z],[d_nu_lat,d_nu_z]];
const evenScale=c=>c.map((k,i)=>[i/(c.length-1),k]);
const padded=(z,n)=>z.map(c=>c.concat(new Array(Math.max(0,n-c.length)).fill(0)));
const traces=[];const layout={width:FIG_W,height:FIG_H,margin:{l:0,r:0,t:0,b:0},paper_bgcolor:'#fff',plot_bgcolor:'#fff',showlegend:false,font:{family:fontMain,color:'#111',size:17},annotations:[]};
let axN=0;
function addAxes(c,r){
  axN++;const s=axN===1?'':axN;
  const bottom=r===4;
  layout['xaxis'+s]={domain:[colX[c][0]/FIG_W,colX[c][1]/FIG_W],anchor:'y'+s,range:[-90,90],tickmode:'array',tickvals:latTicks,ticktext:latLabels,showticklabels:bottom,ticks:'outside',ticklen:3,tickwidth:1,tickcolor:frameColor,mirror:'ticks',showline:true,linecolor:frameColor,linewidth:1.2,showgrid:false,zeroline:false,tickfont:{size:18,family:fontMain,color:'#111'},title:bottom?{text:'latitude',font:{size:21,family:fontMain,color:'#111'},standoff:2}:undefined};
  layout['yaxis'+s]={domain:[1-rowY[r][1]/FIG_H,1-rowY[r][0]/FIG_H],anchor:'x'+s,range:[952,47],tickmode:'array',tickvals:presTicks,ticktext:presTicks.map(String),showticklabels:c!==1,ticks:'outside',ticklen:3,tickwidth:1,tickcolor:frameColor,mirror:'ticks',showline:true,linecolor:frameColor,linewidth:1.2,showgrid:false,zeroline:false,tickfont:{size:18,family:fontMain,color:'#111'},title:c===0?{text:'[hPa]',font:{size:20.5,family:fontMain,color:'#111'}}:undefined};
  return {xaxis:'x'+s,yaxis:'y'+s};
}
function lines(ax,c){
  const thin=c===2?'rgba(50,50,50,0.8)':'rgba(255,255,255,0.72)';
  const strong=c===2?'#000':'#fff';
  const bowl=c===1?ftr_bowl:ref_bowl, upper=c===1?ftr_upper:ref_upper;
  theta_lines.concat([bowl,upper]).forEach(l=>traces.push(Object.assign({type:'scatter',mode:'lines',x:l[0],y:l[1],line:{color:thin,width:1,shape:'spline',smoothing:.7},hoverinfo:'skip'},ax)));
  traces.push(Object.assign({type:'scatter',mode:'lines',x:strat_lat,y:strat_p,line:{color:strong,width:c===2?.9:1.4},connectgaps:false,hoverinfo:'skip'},ax));
  traces.push(Object.assign({type:'scatter',mode:'lines',x:c===1?ftr_trop_lat:ref_trop_lat,y:c===1?ftr_trop_p:ref_trop_p,line:{color:strong,width:5.5,shape:'spline',smoothing:.4},hoverinfo:'skip'},ax));
}
for(let r=0;r<5;r++){
  for(let c=0;c<3;c++){
    const ax=addAxes(c,r);
    if(c<2){
      const f=fFields[r];
      traces.push(Object.assign({type:'contour',x:c===0?f[0]:f[3],y:f[1],z:padded(c===0?f[2]:f[4],f[1].length),transpose:true,autocontour:false,contours:{coloring:'fill',showlines:false,start:.1,end:1,size:.1},line:{width:0,smoothing:0},colorscale:evenScale(fLevelColors),zmin:.05,zmax:1.05,showscale:false,hoverinfo:'skip'},ax));
    }else{
      const d=dFields[r];
      const zeroCols=[[0],[0]];
      traces.push(Object.assign({type:'contour',x:d_edge_lat_low.concat(d[0],d_edge_lat_high),y:PD,z:padded(zeroCols.concat(d[1],zeroCols),PD.length),transpose:true,autocontour:false,contours:{coloring:'fill',showlines:false,start:-18,end:18,size:4},line:{width:0,smoothing:0},colorscale:evenScale(dLevelColors),zmin:-20,zmax:20,showscale:false,hoverinfo:'skip'},ax));
    }
    lines(ax,c);
    if(c===2){
      traces.push(Object.assign({type:'scatter',mode:'lines',x:jet_orange_lat,y:jet_orange_p,line:{color:'#f79a5c',width:1,shape:'spline',smoothing:1},hoverinfo:'skip'},ax));
      traces.push(Object.assign({type:'scatter',mode:'lines',x:jet_cross_lat,y:jet_cross_p,line:{color:'#f27a2e',width:1.4},hoverinfo:'skip'},ax));
      traces.push(Object.assign({type:'scatter',mode:'lines',x:jet_cyan_lat,y:jet_cyan_p,line:{color:'#3fe6e6',width:1,shape:'spline',smoothing:1},hoverinfo:'skip'},ax));
    }
  }
}
function colorBar(x0,x1,colors,tickvals,ticktext){
  axN++;const s=axN;
  layout['xaxis'+s]={domain:[x0/FIG_W,x1/FIG_W],anchor:'y'+s,range:[0,colors.length],tickmode:'array',tickvals,ticktext,ticks:'',showline:true,mirror:true,linecolor:'#333',linewidth:1,showgrid:false,zeroline:false,ticklabelstandoff:-4,tickfont:{size:17,family:fontMain,color:'#111'}};
  layout['yaxis'+s]={domain:[1-749/FIG_H,1-737/FIG_H],anchor:'x'+s,range:[0,1],showticklabels:false,ticks:'',showline:true,mirror:true,linecolor:'#333',linewidth:1,showgrid:false,zeroline:false};
  const idx=colors.map((k,i)=>i);
  traces.push({type:'heatmap',x:idx.map(i=>i+.5),y:[.5],z:[idx],colorscale:evenScale(colors),zmin:0,zmax:colors.length-1,showscale:false,hoverinfo:'skip',xaxis:'x'+s,yaxis:'y'+s});
  const sepX=[],sepY=[];idx.slice(1).forEach(i=>{sepX.push(i,i,null);sepY.push(0,1,null);});
  traces.push({type:'scatter',mode:'lines',x:sepX,y:sepY,line:{color:'#333',width:1},hoverinfo:'skip',xaxis:'x'+s,yaxis:'y'+s});
}
colorBar(214,653,fLevelColors.slice(0,10),fBarLabels.map((t,i)=>i),fBarLabels);
colorBar(847,1126,dLevelColors,dBarPos,dBarLabels);
const ann=(text,xp,yp,size,extra)=>layout.annotations.push(Object.assign({text,x:xp/FIG_W,y:1-yp/FIG_H,xref:'paper',yref:'paper',showarrow:false,xanchor:'center',yanchor:'middle',font:{size,family:fontMain,color:'#111'}},extra||{}));
const serif={family:'"Liberation Serif", "DejaVu Serif", serif',size:33,color:'#111'};
const serifSub={family:'"Liberation Serif", "DejaVu Serif", serif',size:24,color:'#111'};
ann(columnTitles[0]+'  <i>f\u0304</i>',308,23,33,{font:serif,xanchor:'right'});
ann('<i>B</i>',307,32,24,{font:serifSub,xanchor:'left'});
ann(columnTitles[1]+'  <i>f\u0304</i>',643,23,33,{font:serif,xanchor:'right'});
ann('<i>B</i>',642,32,24,{font:serifSub,xanchor:'left'});
ann('\u0394<i>f\u0304</i>',997,23,33,{font:serif,xanchor:'right'});
ann('<i>B</i>',996,32,24,{font:serifSub,xanchor:'left'});
const rowLabelY=[99,230,363,488,620];
seasons.forEach((t,i)=>ann(t,29,rowLabelY[i],24.5));
ann('%',1131,760,17);
Plotly.newPlot('chart',traces,layout,{displayModeBar:false,staticPlot:true});
</script></body></html>
